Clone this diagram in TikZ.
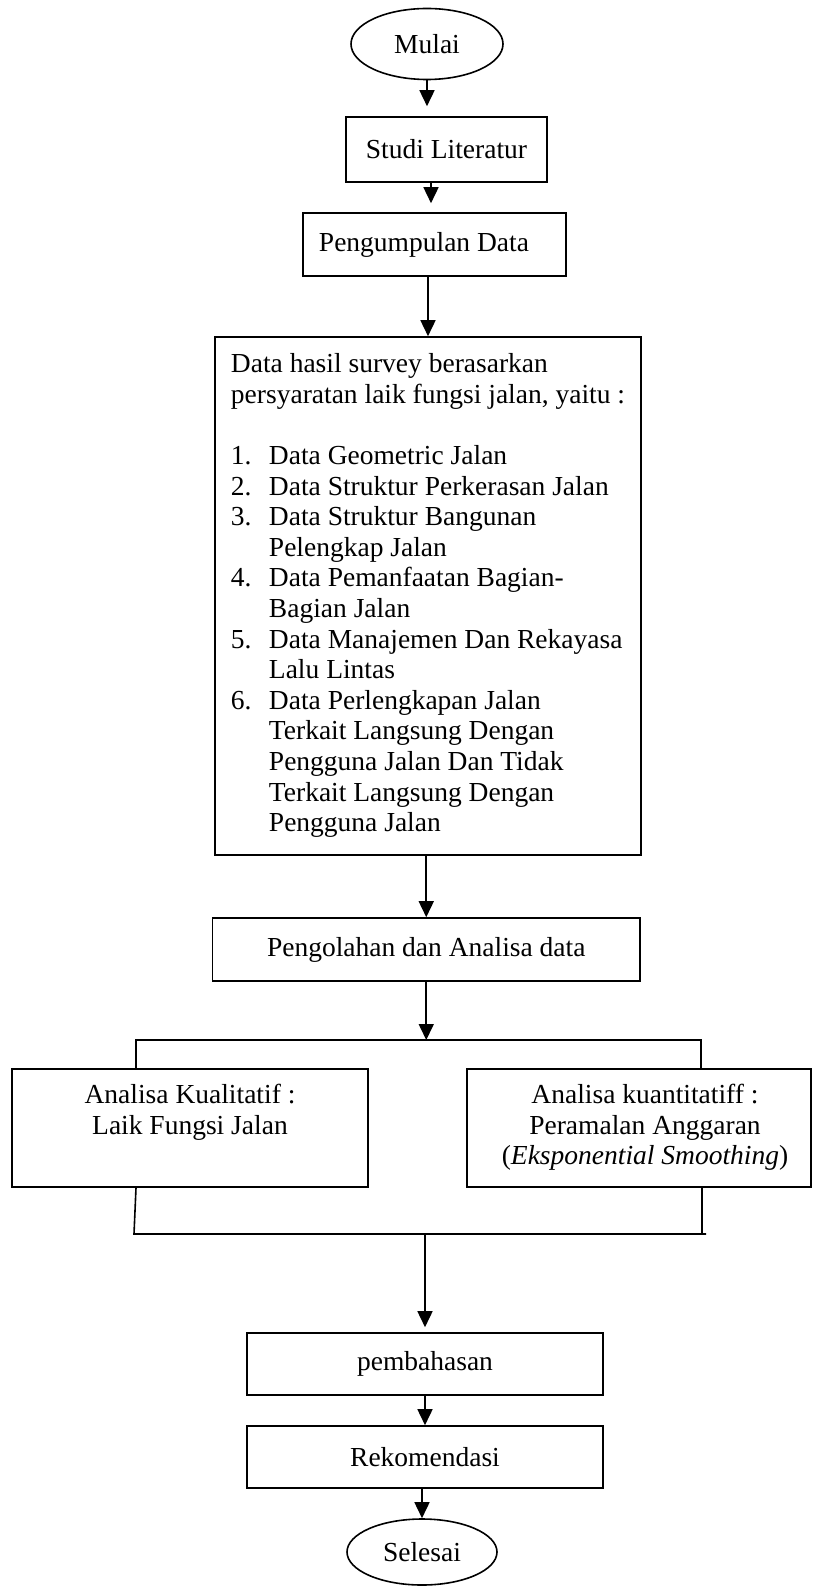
\documentclass[tikz,border=0pt]{standalone}
\usepackage{fontspec}
\setmainfont{Liberation Serif}
\usetikzlibrary{shapes.geometric,arrows.meta}
\begin{document}
\begin{tikzpicture}[x=1pt,y=-1pt,
  every node/.style={font=\fontsize{27.5}{30.6}\selectfont, inner sep=0pt},
  box/.style={draw, line width=1.6pt, rectangle},
  oval/.style={draw, line width=1.6pt, ellipse},
  arr/.style={line width=1.6pt, -{Triangle[length=16pt,width=15pt]}},
  ln/.style={line width=1.6pt}]
\useasboundingbox (0,0) rectangle (813,1586);

\node[oval, minimum width=152pt, minimum height=71pt] (mulai) at (427,44) {Mulai};
\node[box, minimum width=201pt, minimum height=65pt] (studi) at (446.5,149.5) {Studi Literatur};
\node[box, minimum width=263pt, minimum height=63pt] (peng) at (434.5,244.5) {Pengumpulan Data\hspace*{21pt}};
\node[box, minimum width=426pt, minimum height=518pt] (data) at (428,596) {%
\begin{tabular}{@{}l@{}}
Data hasil survey berasarkan\\
persyaratan laik fungsi jalan, yaitu :\\
\\
\makebox[38pt][l]{1.}Data Geometric Jalan\\
\makebox[38pt][l]{2.}Data Struktur Perkerasan Jalan\\
\makebox[38pt][l]{3.}Data Struktur Bangunan\\
\hspace*{38pt}Pelengkap Jalan\\
\makebox[38pt][l]{4.}Data Pemanfaatan Bagian-\\
\hspace*{38pt}Bagian Jalan\\
\makebox[38pt][l]{5.}Data Manajemen Dan Rekayasa\\
\hspace*{38pt}Lalu Lintas\\
\makebox[38pt][l]{6.}Data Perlengkapan Jalan\\
\hspace*{38pt}Terkait Langsung Dengan\\
\hspace*{38pt}Pengguna Jalan Dan Tidak\\
\hspace*{38pt}Terkait Langsung Dengan\\
\hspace*{38pt}Pengguna Jalan
\end{tabular}};
\node[box, minimum width=427.5pt, minimum height=63pt] (olah) at (426.25,949.5) {Pengolahan dan Analisa data};
\node[box, minimum width=356pt, minimum height=118pt] (kual) at (190,1128) {%
\begin{tabular}{@{}c@{}}Analisa Kualitatif :\\Laik Fungsi Jalan\\ \strut\end{tabular}};
\node[box, minimum width=344pt, minimum height=118pt] (kuan) at (639,1128) {%
\hspace*{12pt}\begin{tabular}{@{}c@{}}Analisa kuantitatiff :\\Peramalan Anggaran\\(\textit{Eksponential Smoothing})\end{tabular}};
\node[box, minimum width=356pt, minimum height=62pt] (pemb) at (425,1364) {pembahasan};
\node[box, minimum width=356pt, minimum height=62pt] (rek) at (425,1457) {Rekomendasi};
\node[oval, minimum width=150pt, minimum height=66pt] (sel) at (422,1552) {Selesai};

\coordinate (tl) at (136,1040);
\coordinate (tr) at (701,1040);
\coordinate (bl) at (134,1234);
\coordinate (br) at (702,1234);

\draw[arr, shorten >=10pt] (mulai.south) -- (mulai.south |- studi.north);
\draw[arr, shorten >=9pt] ([xshift=-15.5pt]studi.south) -- ([xshift=-15.5pt]studi.south |- peng.north);
\draw[arr] (data.north |- peng.south) -- (data.north);
\draw[arr] (olah.north |- data.south) -- (olah.north);
\draw[arr] (olah.south) -- (olah.south |- tl);
\draw[ln] (tl |- kual.north) -- (tl) -- (tr) -- (tr |- kuan.north);
\draw[ln] (tl |- kual.south) -- (bl) -- ([xshift=4pt]br);
\draw[ln] (br |- kuan.south) -- (br);
\draw[arr, shorten >=5pt] (pemb.north |- bl) -- (pemb.north);
\draw[arr] (pemb.south) -- (rek.north);
\draw[arr] (sel.north |- rek.south) -- (sel.north);
\end{tikzpicture}
\end{document}
